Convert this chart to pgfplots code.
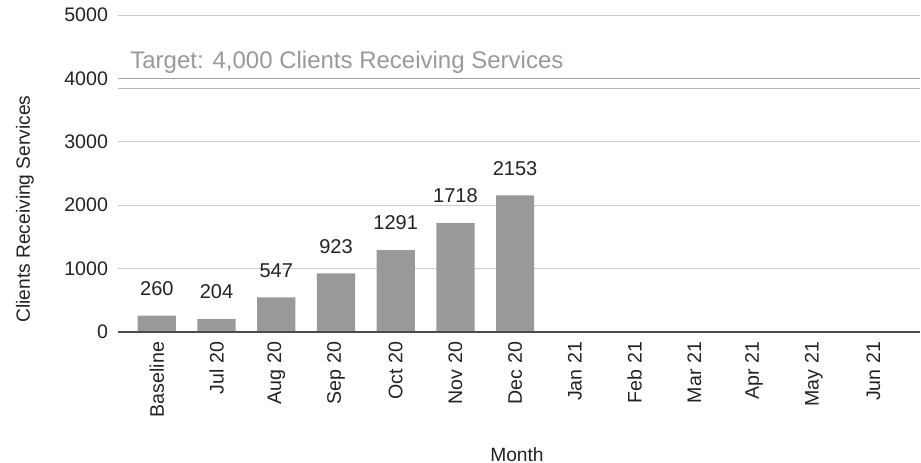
\documentclass[border=0pt]{standalone}
\usepackage{fontspec}
\setmainfont{Liberation Sans}
\usepackage{pgfplots}
\pgfplotsset{compat=1.18}
\definecolor{barc}{HTML}{999999}
\definecolor{gridc}{HTML}{CCCCCC}
\definecolor{txt}{HTML}{222222}
\definecolor{tgt}{HTML}{999999}

\begin{document}
\begin{tikzpicture}
\begin{axis}[
    scale only axis,
    width=401pt,
    height=158.5pt,
    xmin=-0.65, xmax=12.78,
    ymin=0, ymax=5000,
    ytick={0,1000,...,5000},
    xtick={0,...,12},
    xticklabels={Baseline,Jul 20,Aug 20,Sep 20,Oct 20,Nov 20,Dec 20,Jan 21,Feb 21,Mar 21,Apr 21,May 21,Jun 21},
    x tick label style={rotate=90, anchor=east, font=\fontsize{9.8}{11}\selectfont, text=txt},
    y tick label style={font=\fontsize{9.8}{11}\selectfont, text=txt},
    xticklabel shift=1.5pt,
    yticklabel shift=1.5pt,
    /pgf/number format/assume math mode=true,
    /pgf/number format/1000 sep={},
    scaled y ticks=false,
    major tick length=0pt,
    ymajorgrids,
    grid style={draw=gridc, line width=0.5pt},
    axis line style={draw=none},
    xlabel={Month},
    ylabel={Clients Receiving Services},
    label style={font=\fontsize{9.6}{11}\selectfont, text=txt},
    xlabel style={at={(axis description cs:0.4975,-0.388)}, anchor=center},
    ylabel style={at={(axis description cs:-0.116,0.388)}, anchor=center},
    clip=false,
]
\addplot[ybar, bar width=0.64, fill=barc, draw=none,
    nodes near coords,
    every node near coord/.append style={font=\fontsize{10}{12}\selectfont, text=txt, yshift=6.5pt}]
    coordinates {(0,260) (1,204) (2,547) (3,923) (4,1291) (5,1718) (6,2153)};
\addplot[draw=gray!75, line width=0.9pt] coordinates {(-0.65,4000) (12.78,4000)};
\addplot[draw=gray!55, line width=0.5pt] coordinates {(-0.65,3840) (12.78,3840)};
\addplot[draw=black!70, line width=0.8pt] coordinates {(-0.65,0) (12.78,0)};
\node[anchor=base west, text=tgt, font=\fontsize{12}{14}\selectfont, inner sep=0pt]
    at (axis cs:-0.45,4150) {Target: 4,000 Clients Receiving Services};
\end{axis}
\pgfresetboundingbox
\path ([shift={(-59pt,-65.5pt)}]current axis.south west) rectangle ([shift={(0.5pt,7.5pt)}]current axis.north east);
\end{tikzpicture}
\end{document}
